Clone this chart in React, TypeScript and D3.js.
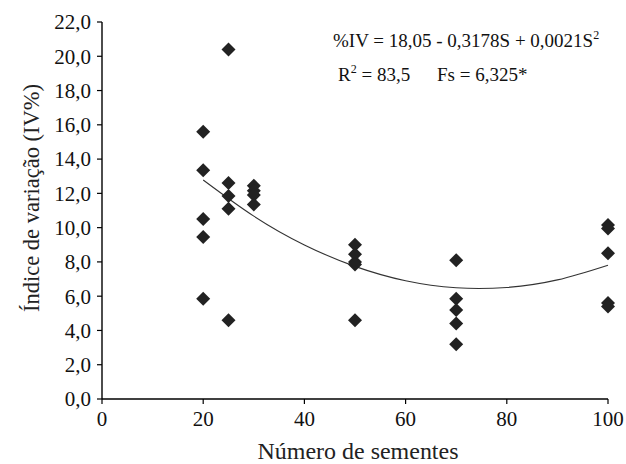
import React from "react";
import * as d3 from "d3";

const seedCounts = [
  20, 20, 20, 20, 20,
  25, 25, 25, 25, 25,
  30, 30, 30, 30,
  50, 50, 50, 50, 50,
  70, 70, 70, 70, 70,
  100, 100, 100, 100, 100,
];
const ivValues = [
  15.6, 13.35, 10.5, 9.45, 5.85,
  20.4, 12.6, 11.85, 11.1, 4.6,
  12.45, 12.15, 11.9, 11.35,
  9.0, 8.45, 8.0, 7.85, 4.6,
  8.1, 5.85, 5.2, 4.4, 3.2,
  10.15, 9.95, 8.5, 5.6, 5.4,
];
const trendS = [20, 30, 40, 50, 60, 70, 80, 90, 100];
const trendIV = [12.78, 10.67, 8.99, 7.74, 6.9, 6.49, 6.51, 6.95, 7.81];
const xTicks = [0, 20, 40, 60, 80, 100];
const yTicks = [0, 2, 4, 6, 8, 10, 12, 14, 16, 18, 20, 22];

const W = 626;
const H = 464;
const FONT = "Liberation Serif";

export default function App() {
  const x = d3.scaleLinear().domain([0, 100]).range([102, 608]);
  const y = d3.scaleLinear().domain([0, 22]).range([399, 22]);
  const fmt = (v: number) => v.toFixed(1).replace(".", ",");
  const diamond = d3.symbol(d3.symbolSquare, 98)() as string;
  const line = d3
    .line<number>()
    .x((_, i) => x(trendS[i]))
    .y((d) => y(d))
    .curve(d3.curveNatural);

  return (
    <svg
      width={W}
      height={H}
      style={{ position: "absolute", left: 0, top: 0, background: "#fff", fontFamily: FONT }}
    >
      {/* axes */}
      <line x1={x(0)} x2={x(0)} y1={y(22)} y2={y(0)} stroke="#000" strokeWidth={1.4} />
      <line x1={x(0)} x2={x(100)} y1={y(0)} y2={y(0)} stroke="#000" strokeWidth={1.4} />
      {yTicks.map((t) => (
        <g key={"y" + t}>
          <line x1={x(0) - 5} x2={x(0)} y1={y(t)} y2={y(t)} stroke="#000" strokeWidth={1.2} />
          <text x={91} y={y(t)} dy="0.35em" textAnchor="end" fontSize={21} fill="#111" style={{ fontFamily: FONT }}>
            {fmt(t)}
          </text>
        </g>
      ))}
      {xTicks.map((t) => (
        <g key={"x" + t}>
          <line x1={x(t)} x2={x(t)} y1={y(0)} y2={y(0) + 5} stroke="#000" strokeWidth={1.2} />
          <text x={x(t)} y={426} textAnchor="middle" fontSize={21} fill="#111" style={{ fontFamily: FONT }}>
            {t}
          </text>
        </g>
      ))}
      <text x={358} y={459} textAnchor="middle" fontSize={23} fill="#222" textLength={201} lengthAdjust="spacingAndGlyphs" style={{ fontFamily: FONT }}>
        Número de sementes
      </text>
      <text
        transform={`translate(39,${198}) rotate(-90)`}
        textAnchor="middle"
        fontSize={23}
        fill="#222"
        textLength={228}
        lengthAdjust="spacingAndGlyphs"
        style={{ fontFamily: FONT }}
      >
        Índice de variação (IV%)
      </text>

      {/* trend */}
      <path d={line(trendIV) || ""} fill="none" stroke="#333" strokeWidth={1.1} />

      {/* points */}
      {ivValues.map((v, i) => (
        <path
          key={i}
          d={diamond}
          transform={`translate(${x(seedCounts[i])},${y(v)}) rotate(45)`}
          fill="#222"
        />
      ))}

      {/* equation */}
      <text x={333} y={47} fontSize={19} fill="#111" style={{ fontFamily: FONT }}>
        %IV = 18,05 - 0,3178S + 0,0021S
        <tspan dy={-8} fontSize={12}>2</tspan>
      </text>
      <text x={338} y={81} fontSize={19} fill="#111" style={{ fontFamily: FONT }}>
        R<tspan dy={-8} fontSize={12}>2</tspan>
        <tspan dy={8}> = 83,5</tspan>
      </text>
      <text x={437} y={81} fontSize={19} fill="#111" style={{ fontFamily: FONT }}>
        Fs = 6,325*
      </text>
    </svg>
  );
}
